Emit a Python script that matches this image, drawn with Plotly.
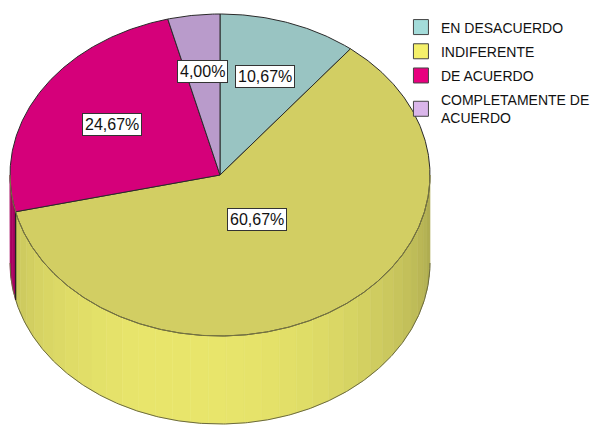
import numpy as np
import plotly.graph_objects as go

# ---- data ----
categorias = ["EN DESACUERDO", "INDIFERENTE", "DE ACUERDO", "COMPLETAMENTE DE ACUERDO"]
nombres_leyenda = ["EN DESACUERDO", "INDIFERENTE", "DE ACUERDO", "COMPLETAMENTE DE<br>ACUERDO"]
porcentajes = [10.67, 60.67, 24.67, 4.00]
etiquetas = ["10,67%", "60,67%", "24,67%", "4,00%"]

# ---- styles ----
colores_cara = ["#99C4C2", "#D2CE63", "#D5007A", "#B99BCB"]
colores_leyenda = ["#A4DCDA", "#F4F06A", "#E8007F", "#DAB6EA"]
colores_lado = [(152, 198, 196), (233, 230, 108), (200, 0, 116), (190, 160, 208)]
radio_etiqueta = [0.65, 0.33, 0.60, 0.65]

W, H = 594, 425
CX, CY, RX, RY, DEPTH = 220, 175, 210, 161, 88
FONT = "Liberation Sans, Arial, sans-serif"


def pt(theta_deg, r=1.0, dy=0.0):
    t = np.radians(theta_deg)
    return CX + RX * r * np.cos(t), CY - RY * r * np.sin(t) + dy


def arc(a, b, dy=0.0, step=0.5):
    n = max(2, int(abs(b - a) / step) + 1)
    th = np.linspace(a, b, n)
    xs, ys = pt(th, 1.0, dy)
    return list(xs), list(ys)


fig = go.Figure()

# slice angle ranges (clockwise from 12 o'clock)
total = sum(porcentajes)
rangos = []
acc = 0.0
for p in porcentajes:
    a0 = 90 - 360 * acc / total
    a1 = 90 - 360 * (acc + p) / total
    rangos.append((a0, a1))
    acc += p

# ---- side walls (front half only) ----
bordes = []
for i, (a0, a1) in enumerate(rangos):
    lo, hi = min(a0, a1), max(a0, a1)
    for k in (-1, 0, 1):
        vlo, vhi = -180 + 360 * k, 360 * k
        s, e = max(lo, vlo), min(hi, vhi)
        if e - s <= 0.01:
            continue
        nstrips = max(1, int(np.ceil((e - s) / 5.0)))
        edges = np.linspace(s, e, nstrips + 1)
        for j in range(nstrips):
            a, b = edges[j], edges[j + 1]
            mid = (a + b) / 2 - 360 * k
            f = 0.77 + 0.23 * np.cos(np.radians(mid + 100))
            c = colores_lado[i]
            col = "rgb(%d,%d,%d)" % tuple(int(min(255, v * f)) for v in c)
            xt, yt = arc(a, b)
            xb, yb = arc(b, a, DEPTH)
            fig.add_trace(go.Scatter(
                x=xt + xb + [xt[0]], y=yt + yb + [yt[0]],
                fill="toself", fillcolor=col, mode="lines",
                line=dict(width=0.6, color=col), hoverinfo="skip", showlegend=False))
        for ang in (a0, a1):
            if vlo < ang < vhi:
                bordes.append(ang)

# side outline
xo, yo = arc(-180, 0, DEPTH)
fig.add_trace(go.Scatter(x=xo, y=yo, mode="lines", line=dict(width=1, color="#6b6a40"),
                         hoverinfo="skip", showlegend=False))
for ang in bordes:
    x0, y0 = pt(ang)
    x1, y1 = pt(ang, 1.0, DEPTH)
    fig.add_trace(go.Scatter(x=[x0, x1], y=[y0, y1], mode="lines",
                             line=dict(width=1.2, color="#222"),
                             hoverinfo="skip", showlegend=False))

# ---- top faces ----
for i, (a0, a1) in enumerate(rangos):
    xs, ys = arc(a0, a1)
    fig.add_trace(go.Scatter(
        x=[CX] + xs + [CX], y=[CY] + ys + [CY],
        fill="toself", fillcolor=colores_cara[i], mode="lines",
        line=dict(width=1, color="#2a2a2a"), hoverinfo="skip", showlegend=False))

# soft line where top face meets the side
xf, yf = arc(-180, 0)
fig.add_trace(go.Scatter(x=xf, y=yf, mode="lines", line=dict(width=0.8, color="#8a8848"),
                         hoverinfo="skip", showlegend=False))

# ---- legend entries ----
for i, nombre in enumerate(nombres_leyenda):
    fig.add_trace(go.Scatter(
        x=[None], y=[None], mode="markers", name=nombre, legendgroup="g%d" % i,
        marker=dict(symbol="square", size=15, color=colores_leyenda[i],
                    line=dict(width=1, color="#444"))))

# ---- labels ----
for i, (a0, a1) in enumerate(rangos):
    mid = (a0 + a1) / 2
    lx, ly = pt(mid, radio_etiqueta[i])
    fig.add_annotation(x=lx, y=ly, text=etiquetas[i], showarrow=False,
                       font=dict(family=FONT, size=16, color="#111"),
                       bgcolor="white", bordercolor="#333", borderwidth=1, borderpad=2)

fig.update_layout(
    width=W, height=H, margin=dict(l=0, r=0, t=0, b=0, autoexpand=False),
    paper_bgcolor="white", plot_bgcolor="white",
    xaxis=dict(range=[0, W], visible=False, fixedrange=True),
    yaxis=dict(range=[H, 0], visible=False, fixedrange=True),
    showlegend=True,
    legend=dict(x=0.675, y=0.973, xanchor="left", yanchor="top",
                font=dict(family=FONT, size=14, color="#111"),
                tracegroupgap=3, itemwidth=30, bgcolor="rgba(0,0,0,0)"),
)

fig.write_html("out.html", config={"displayModeBar": False},
               post_script="document.body.style.margin='0';")
